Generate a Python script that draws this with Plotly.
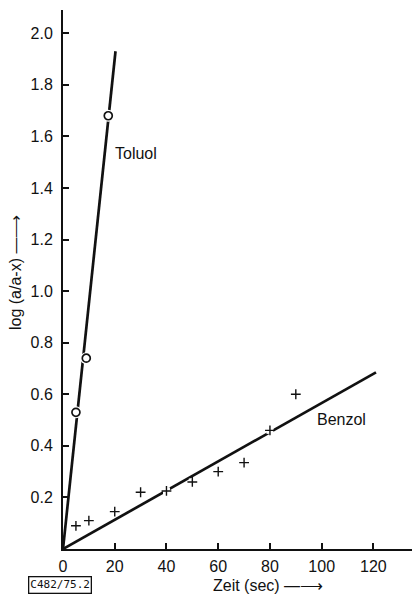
import plotly.graph_objects as go

# Data
toluol_t = [5, 9, 17.5]
toluol_y = [0.53, 0.74, 1.68]
toluol_fit_t = [0, 20.3]
toluol_fit_y = [0, 1.93]

benzol_t = [5, 10, 20, 30, 40, 50, 60, 70, 80, 90]
benzol_y = [0.09, 0.11, 0.145, 0.22, 0.225, 0.26, 0.30, 0.335, 0.46, 0.60]
benzol_fit_t = [0, 121]
benzol_fit_y = [0, 0.685]

x_ticks = [0, 20, 40, 60, 80, 100, 120]
y_ticks = [0.2, 0.4, 0.6, 0.8, 1.0, 1.2, 1.4, 1.6, 1.8, 2.0]
y_ticktext = ["0.2", "0.4", "0.6", "0.8", "1.0", "1.2", "1.4", "1.6", "1.8", "2.0"]

FONT = "Liberation Sans, Arial, sans-serif"
INK = "#111111"

W, H = 420, 595
L, R, T, B = 55, 0, 2, 54

fig = go.Figure()

fig.add_trace(go.Scatter(x=toluol_fit_t, y=toluol_fit_y, mode="lines",
                         line=dict(color=INK, width=2.7), hoverinfo="skip"))
fig.add_trace(go.Scatter(x=benzol_fit_t, y=benzol_fit_y, mode="lines",
                         line=dict(color=INK, width=2.7), hoverinfo="skip"))
# white backings to create gaps around markers
fig.add_trace(go.Scatter(x=toluol_t, y=toluol_y, mode="markers",
                         marker=dict(symbol="circle", size=12, color="white",
                                     line=dict(width=0)), hoverinfo="skip"))
fig.add_trace(go.Scatter(x=toluol_t, y=toluol_y, mode="markers",
                         marker=dict(symbol="circle-open", size=8, color=INK,
                                     line=dict(width=1.7, color=INK))))
fig.add_trace(go.Scatter(x=benzol_t, y=benzol_y, mode="markers",
                         marker=dict(symbol="square", size=7, color="white",
                                     line=dict(width=0)), hoverinfo="skip"))
fig.add_trace(go.Scatter(x=benzol_t, y=benzol_y, mode="markers",
                         marker=dict(symbol="cross-thin", size=7, color=INK,
                                     line=dict(width=1.4, color=INK))))

def px(x, y):
    """pixel position in the figure -> paper coords"""
    return (x - L) / (W - L - R), (H - B - y) / (H - T - B)

ann_font = dict(family=FONT, size=16, color=INK)
yt_x, yt_y = px(7, 265)
xt_x, xt_y = px(260, 577)
id_x, id_y = px(52, 577)

fig.update_layout(
    width=W, height=H,
    margin=dict(l=L, r=R, t=T, b=B),
    paper_bgcolor="white", plot_bgcolor="white",
    showlegend=False,
    font=dict(family=FONT, size=16, color=INK),
    xaxis=dict(range=[0, 141.1], tickvals=x_ticks, ticks="inside", ticklen=6,
               tickwidth=1.5, tickcolor=INK, showline=True, linecolor=INK,
               linewidth=2, showgrid=False, zeroline=False,
               ticklabelstandoff=2,
               tickfont=dict(family=FONT, size=16, color=INK)),
    yaxis=dict(range=[0, 2.09], tickvals=y_ticks, ticktext=y_ticktext,
               ticks="inside", ticklen=6, tickwidth=1.5, tickcolor=INK,
               showline=True, linecolor=INK, linewidth=2, showgrid=False,
               zeroline=False, ticklabelstandoff=5,
               tickfont=dict(family=FONT, size=16, color=INK)),
    annotations=[
        dict(x=28.3, y=1.535, xref="x", yref="y", text="Toluol", showarrow=False,
             xanchor="center", yanchor="middle", font=ann_font),
        dict(x=107.6, y=0.503, xref="x", yref="y", text="Benzol", showarrow=False,
             xanchor="center", yanchor="middle", font=ann_font),
        dict(x=yt_x, y=yt_y, xref="paper", yref="paper",
             text="log (a/a-x) \u2014\u27f6",
             showarrow=False, textangle=-90, xanchor="center", yanchor="middle",
             font=ann_font),
        dict(x=xt_x, y=xt_y, xref="paper", yref="paper",
             text="Zeit (sec) \u2014\u27f6",
             showarrow=False, xanchor="center", yanchor="middle", font=ann_font),
        dict(x=id_x, y=id_y, xref="paper", yref="paper", text="C482/75.2",
             showarrow=False, bordercolor=INK, borderwidth=1.3, borderpad=1,
             xanchor="center", yanchor="middle",
             font=dict(family="DejaVu Sans Mono, monospace", size=11, color=INK)),
    ],
)

fig.write_html("out.html")
